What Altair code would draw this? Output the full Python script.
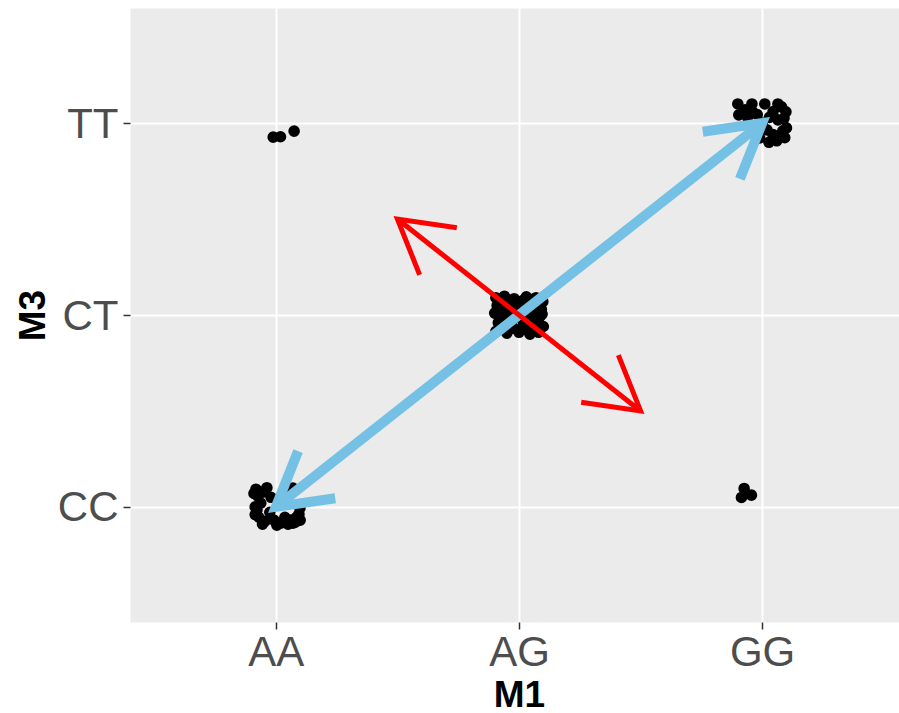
import math
import altair as alt
import pandas as pd

# genotype levels, in axis order
m1_levels = ["AA", "AG", "GG"]
m3_levels = ["CC", "CT", "TT"]

# one group of individuals per observed (M1, M3) genotype pair
group_m1 = ["AA", "AA", "AG", "GG", "GG"]
group_m3 = ["TT", "CC", "CT", "TT", "CC"]

# jitter offsets of every individual inside its group
jitter_x = [
    [-0.011, 0.019, 0.075],
    [-0.082, -0.037, 0.070, -0.074, -0.062, -0.078, -0.070, -0.045, -0.008, 0.004,
     0.037, 0.062, 0.070, 0.095, 0.099, 0.100, 0.016, -0.025, 0.040, -0.054,
     -0.090, -0.085, -0.085, -0.055, 0.020, 0.050, 0.085, 0.080, -0.020, 0.055],
    [-0.095, -0.060, -0.020, 0.030, 0.070, 0.098, -0.090, -0.045, 0.010, 0.055,
     0.092, -0.100, -0.055, -0.010, 0.040, 0.085, -0.085, -0.035, 0.020, 0.065,
     0.100, -0.095, -0.050, 0.000, 0.045, 0.080, -0.070, 0.030,
     -0.075, -0.025, 0.015, 0.050, 0.080, -0.075, -0.030, 0.020, 0.065, -0.080,
     -0.035, 0.015, 0.060, -0.060, 0.045, 0.085, -0.020, 0.095],
    [-0.100, -0.042, 0.011, 0.065, 0.098, -0.096, 0.100, 0.085, 0.060, 0.028,
     -0.010, -0.050, 0.030, 0.065, -0.070, -0.020, 0.093, 0.020,
     0.080, 0.045, 0.075, 0.090, -0.040, 0.000, 0.045, -0.060],
    [-0.074, -0.085, -0.044],
]
jitter_y = [
    [-0.073, -0.071, -0.042],
    [0.092, 0.100, 0.098, 0.056, 0.019, -0.017, -0.054, -0.075, -0.069, -0.095,
     -0.054, -0.069, -0.085, -0.038, -0.007, -0.069, 0.009, -0.028, 0.045, 0.077,
     0.070, 0.000, -0.040, -0.090, -0.085, -0.090, -0.055, -0.080, 0.050, 0.075],
    [0.090, 0.098, 0.085, 0.095, 0.090, 0.070, 0.050, 0.055, 0.045, 0.060,
     0.030, 0.010, 0.005, -0.010, 0.015, -0.010, -0.040, -0.045, -0.050, -0.040,
     -0.060, -0.085, -0.095, -0.090, -0.100, -0.090, -0.070, -0.075,
     0.075, 0.070, 0.075, 0.080, 0.055, 0.030, 0.025, 0.020, 0.035, -0.015,
     -0.020, -0.025, -0.015, -0.055, -0.065, -0.075, -0.070, 0.005],
    [0.100, 0.100, 0.100, 0.100, 0.059, 0.043, -0.025, -0.040, -0.092, -0.100,
     -0.077, -0.010, 0.030, 0.017, 0.070, 0.045, -0.076, -0.035,
     0.085, -0.060, -0.065, 0.025, 0.060, 0.000, 0.060, 0.030],
    [0.096, 0.049, 0.061],
]

# double-headed direction arrows (start and end in genotype units)
arrow_x0 = [1.0, 1.5]
arrow_y0 = [1.0, 2.5]
arrow_x1 = [3.0, 2.5]
arrow_y1 = [3.0, 1.5]

# plot geometry
W, H = 769, 614
x_dom = [0.4, 3.563]
y_dom = [0.4, 3.6]
kx = W / (x_dom[1] - x_dom[0])
ky = H / (y_dom[1] - y_dom[0])

rows = []
for g1, g3, jx, jy in zip(group_m1, group_m3, jitter_x, jitter_y):
    for dx, dy in zip(jx, jy):
        rows.append({
            "M1": g1, "M3": g3,
            "x": m1_levels.index(g1) + 1 + dx,
            "y": m3_levels.index(g3) + 1 + dy,
        })
points_df = pd.DataFrame(rows)


def heading(fx, fy, tx, ty):
    # screen-space direction from (fx, fy) towards (tx, ty), clockwise degrees
    a = math.degrees(math.atan2(-(ty - fy) * ky, (tx - fx) * kx))
    return a % 360


shaft_frames, head_frames = [], []
for i in range(len(arrow_x0)):
    x0, y0, x1, y1 = arrow_x0[i], arrow_y0[i], arrow_x1[i], arrow_y1[i]
    shaft_frames.append(pd.DataFrame([{"x": x0, "y": y0, "x2": x1, "y2": y1}]))
    head_frames.append(pd.DataFrame([
        {"x": x1, "y": y1, "angle": heading(x0, y0, x1, y1)},
        {"x": x0, "y": y0, "angle": heading(x1, y1, x0, y0)},
    ]))

FONT = "Liberation Sans"
xs = alt.Scale(domain=x_dom, nice=False, zero=False)
ys = alt.Scale(domain=y_dom, nice=False, zero=False)

common_axis = dict(
    values=[1, 2, 3], grid=True, gridColor="white", gridWidth=2,
    domain=False, ticks=True, tickColor="#333333", tickSize=7, tickWidth=1.5,
    labelFont=FONT, labelFontSize=42, labelColor="#4D4D4D",
    labelFlush=False, labelOverlap=False,
    titleFont=FONT, titleFontSize=37, titleFontWeight="bold", titleColor="black",
)
xaxis = alt.Axis(
    labelExpr=f"{m1_levels}[datum.value - 1]", labelPadding=3,
    titleX=389, titleY=55, titleBaseline="top", titleAlign="center",
    **common_axis,
)
yaxis = alt.Axis(
    labelExpr=f"{m3_levels}[datum.value - 1]", labelPadding=5, labelOffset=1,
    titleX=-86, titleY=307, titleAngle=270, titleBaseline="alphabetic",
    titleAlign="center",
    **common_axis,
)


def xy(xf="x", yf="y"):
    return dict(
        x=alt.X(f"{xf}:Q", scale=xs, axis=xaxis, title="M1"),
        y=alt.Y(f"{yf}:Q", scale=ys, axis=yaxis, title="M3"),
    )


points = alt.Chart(points_df).mark_circle(
    size=135, color="black", opacity=1
).encode(**xy())

CHEVRON = "M-0.866,-0.5L0,0L-0.866,0.5"
arrow_styles = [("#74C1E5", 10), ("#FF0000", 5)]

layers = [points]
for (col, sw), sdf, hdf in zip(arrow_styles, shaft_frames, head_frames):
    shaft = alt.Chart(sdf).mark_rule(
        color=col, strokeWidth=sw, strokeCap="butt"
    ).encode(x2="x2:Q", y2="y2:Q", **xy())
    heads = alt.Chart(hdf).mark_point(
        shape=CHEVRON, size=14400, filled=False, color=col, strokeWidth=sw,
        opacity=1, strokeJoin="miter", strokeMiterLimit=10, strokeCap="butt",
    ).encode(angle=alt.Angle("angle:Q", scale=None), **xy())
    layers += [shaft, heads]

chart = alt.layer(*layers).properties(
    width=W, height=H,
    autosize=alt.AutoSizeParams(type="none"),
    padding={"left": 130, "top": 8, "right": 0, "bottom": 91},
    background="white",
).configure_view(fill="#EBEBEB", stroke="transparent")

chart.save("out.html", embed_options={"renderer": "svg", "actions": False})
